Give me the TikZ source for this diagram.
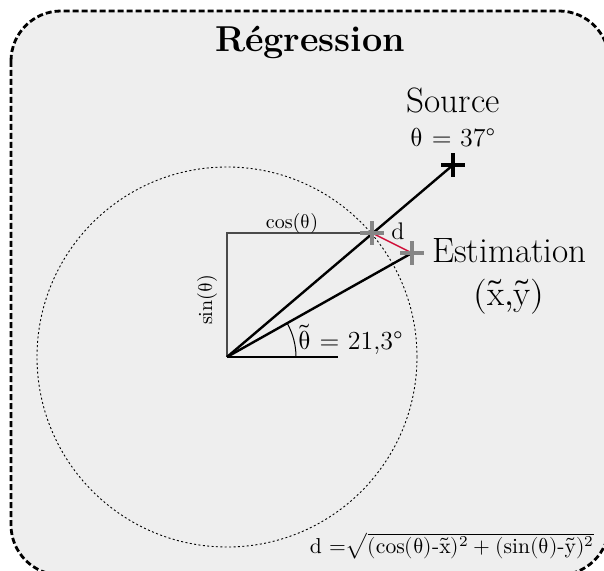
\documentclass[tikz,border=0pt]{standalone}
\usepackage{unicode-math}
\definecolor{panelbg}{HTML}{EEEEEE}
\definecolor{markgray}{HTML}{858585}
\definecolor{guidegray}{HTML}{4A4A4A}
\definecolor{errred}{HTML}{D0103A}
\tikzset{
  panelframe/.style={
    draw=black, fill=panelbg, line width=1.4pt,
    dash pattern=on 3pt off 1.5pt, rounded corners=25pt
  },
  unitcircle/.style={draw=black, line width=0.45pt, dash pattern=on 1pt off 1.2pt},
  ray/.style={draw=black, line width=1.2pt},
  guide/.style={draw=guidegray, line width=0.75pt},
  errline/.style={draw=errred, line width=0.7pt},
  estmark/.style={draw=markgray, line width=2.4pt},
  srcmark/.style={draw=black, line width=2.4pt},
  biglabel/.style={font=\fontsize{17.6}{20}\selectfont},
}
\begin{document}
\begin{tikzpicture}[x=0.5pt,y=-0.5pt]
  \useasboundingbox (0,0) rectangle (604,571);
  \draw[panelframe] (11,11) rectangle (609,575);
  \coordinate (O) at (227,357);
  \coordinate (corner) at (227,233);
  \coordinate (base) at (338,357);
  \coordinate (src) at (453,165);
  \coordinate (proj) at (372,233);
  \coordinate (est) at (412,253);
  \draw[unitcircle] (O) circle[radius=95pt];
  \draw[guide] (O) -- (corner) -- (proj);
  \draw[ray] (O) -- (base);
  \draw[ray] (O) -- (src);
  \draw[ray] (O) -- (est);
  \draw[line width=0.5pt] ([xshift=34.5pt]O) arc[start angle=0, end angle=29.1, radius=34.5pt];
  \draw[errline] (proj) -- (est);
  \foreach \m in {proj,est}
    \draw[estmark] ([xshift=-6pt]\m) -- ([xshift=6pt]\m) ([yshift=-6pt]\m) -- ([yshift=6pt]\m);
  \draw[srcmark] ([xshift=-6pt]src) -- ([xshift=6pt]src) ([yshift=-6pt]src) -- ([yshift=6pt]src);
  \node[font=\fontsize{18}{21}\selectfont\bfseries, anchor=base] (title) at (310,52) {Régression};
  \node[biglabel, anchor=base] (srclbl) at (453,113) {Source};
  \node[font=\fontsize{13}{15}\selectfont, anchor=base] (srcang) at (453,147) {$\symup{\theta}$ = 37°};
  \node[biglabel, anchor=base] (estlbl) at (509.5,263) {Estimation};
  \node[biglabel] (estxy) at (509,297) {$(\tilde{\mathrm{x}}{,}\tilde{\mathrm{y}})$};
  \node[font=\large, anchor=base] (dlbl) at (398,240) {d};
  \node[anchor=base] (coslbl) at (292,229) {cos($\symup{\theta}$)};
  \node[rotate=90] (sinlbl) at (207,300) {sin($\symup{\theta}$)};
  \node[font=\fontsize{13}{15}\selectfont, anchor=base west, inner sep=0pt] (anglbl) at (298,350) {$\tilde{\symup{\theta}}$ = 21,3°};
  \node[font=\fontsize{10.8}{13}\selectfont, anchor=base] (dist) at (452,553)
    {d =$\sqrt{(\cos(\symup{\theta})\mbox{-}\tilde{\mathrm{x}})^2 + (\sin(\symup{\theta})\mbox{-}\tilde{\mathrm{y}})^2}$};
\end{tikzpicture}
\end{document}
